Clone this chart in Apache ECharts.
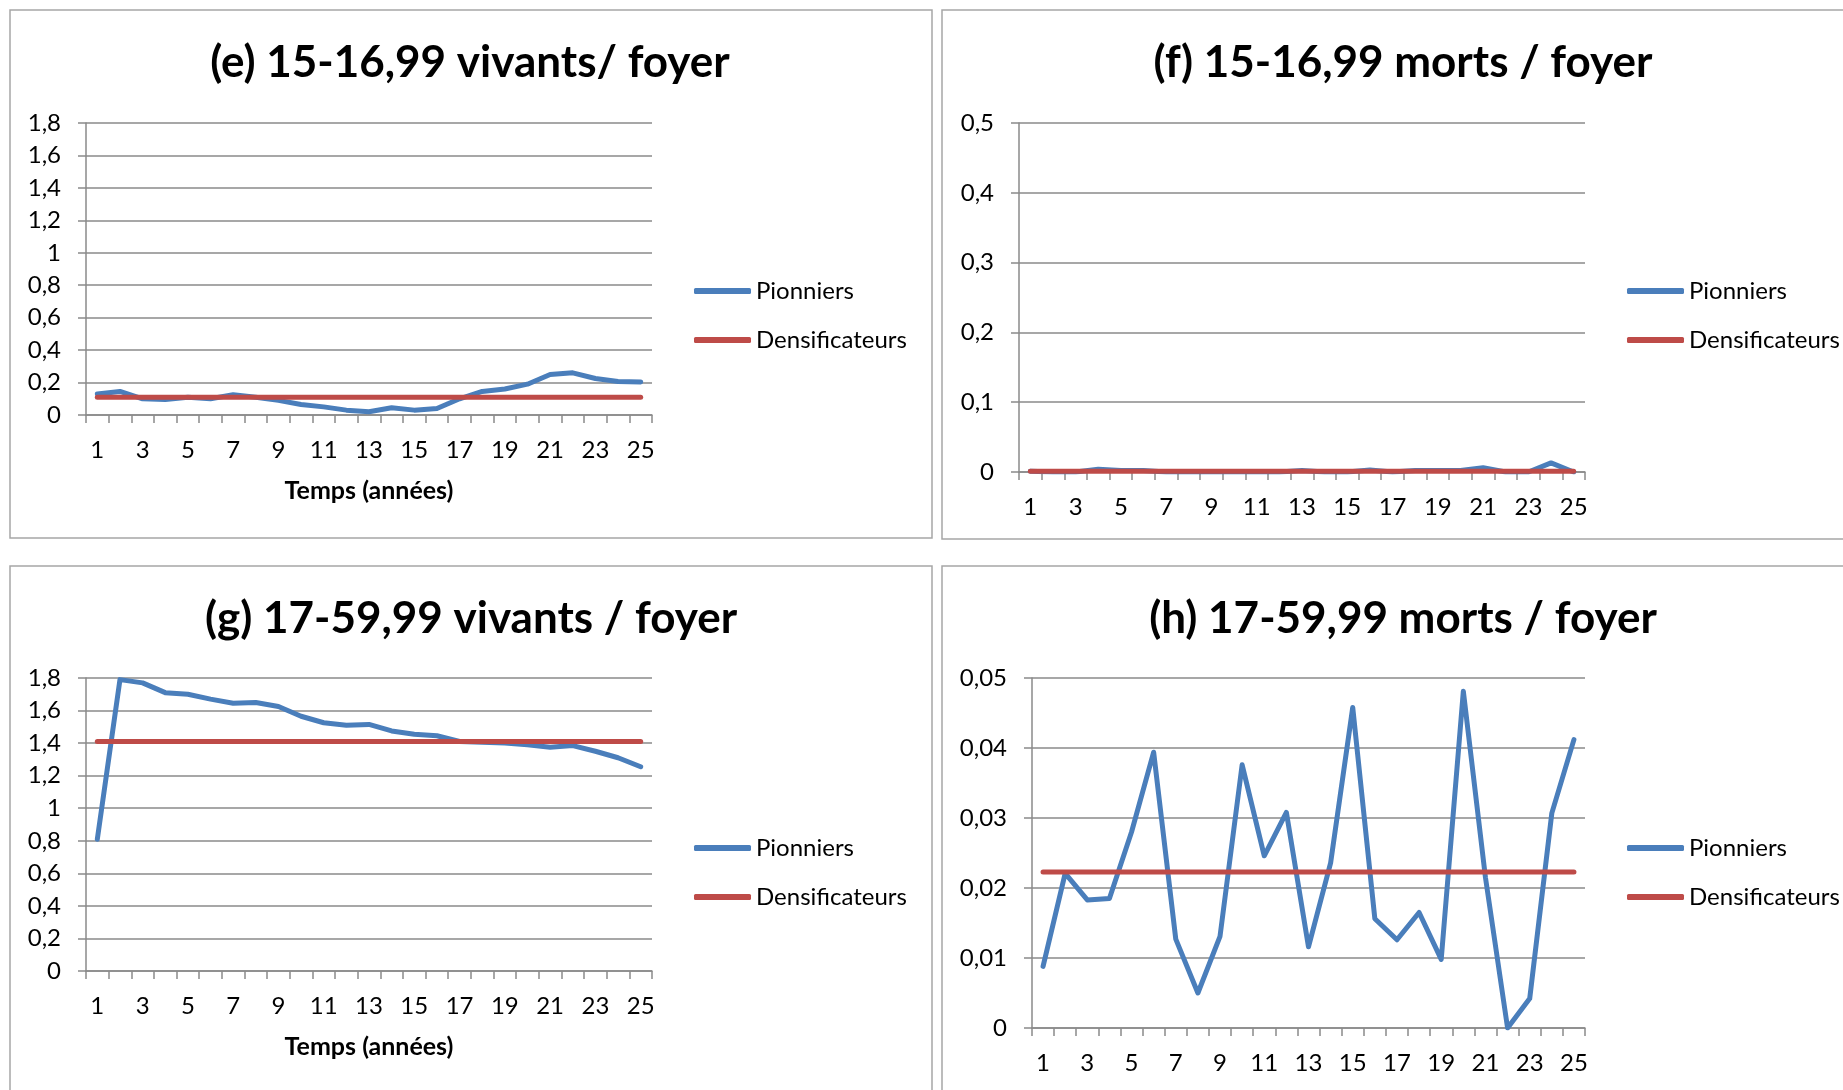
<!DOCTYPE html>
<html><head><meta charset="utf-8">
<script src="https://cdn.jsdelivr.net/npm/echarts@6/dist/echarts.min.js"></script>
<style>html,body{margin:0;padding:0;background:#fff}#c{width:1843px;height:1090px}</style>
</head><body><div id="c"></div>
<script>
// ---------- DATA ----------
const years = ['1','2','3','4','5','6','7','8','9','10','11','12','13','14','15','16','17','18','19','20','21','22','23','24','25'];
const seriesNames = ['Pionniers', 'Densificateurs'];
const panelTitles = ['(e) 15-16,99 vivants/ foyer', '(f) 15-16,99 morts / foyer', '(g) 17-59,99 vivants / foyer', '(h) 17-59,99 morts / foyer'];
const xAxisTitle = 'Temps (années)';

const ePionniers = [0.13,0.145,0.10,0.095,0.11,0.10,0.125,0.11,0.09,0.065,0.05,0.03,0.02,0.045,0.03,0.04,0.10,0.145,0.16,0.19,0.25,0.26,0.225,0.207,0.204];
const eDensificateurs = [0.11,0.11,0.11,0.11,0.11,0.11,0.11,0.11,0.11,0.11,0.11,0.11,0.11,0.11,0.11,0.11,0.11,0.11,0.11,0.11,0.11,0.11,0.11,0.11,0.11];

const fPionniers = [0.001,0,0,0.004,0.002,0.002,0,0,0,0,0,0,0.002,0,0,0.003,0,0.002,0.002,0.002,0.006,0,0,0.013,0];
const fDensificateurs = [0.001,0.001,0.001,0.001,0.001,0.001,0.001,0.001,0.001,0.001,0.001,0.001,0.001,0.001,0.001,0.001,0.001,0.001,0.001,0.001,0.001,0.001,0.001,0.001,0.001];

const gPionniers = [0.81,1.79,1.77,1.71,1.70,1.67,1.645,1.65,1.625,1.565,1.525,1.51,1.515,1.475,1.455,1.445,1.41,1.405,1.40,1.39,1.375,1.385,1.35,1.31,1.255];
const gDensificateurs = [1.41,1.41,1.41,1.41,1.41,1.41,1.41,1.41,1.41,1.41,1.41,1.41,1.41,1.41,1.41,1.41,1.41,1.41,1.41,1.41,1.41,1.41,1.41,1.41,1.41];

const hPionniers = [0.0088,0.0221,0.0183,0.0185,0.028,0.0394,0.0127,0.005,0.0131,0.0376,0.0246,0.0308,0.0116,0.0236,0.0458,0.0156,0.0126,0.0165,0.0098,0.0481,0.0215,0,0.0042,0.0307,0.0412];
const hDensificateurs = [0.0223,0.0223,0.0223,0.0223,0.0223,0.0223,0.0223,0.0223,0.0223,0.0223,0.0223,0.0223,0.0223,0.0223,0.0223,0.0223,0.0223,0.0223,0.0223,0.0223,0.0223,0.0223,0.0223,0.0223,0.0223];

const yMaxes = [1.8, 0.5, 1.8, 0.05];
const yIntervals = [0.2, 0.1, 0.2, 0.01];

// ---------- LAYOUT / STYLE ----------
const FONT = 'Lato, "Open Sans", sans-serif';
const BLUE = '#4A7EBB', RED = '#BE4B48', GRID = '#8a8a8a', BORDER = '#a6a6a6';
const grids = [
  {left: 86, top: 123, width: 566, height: 292},
  {left: 1019, top: 123, width: 566, height: 349},
  {left: 86, top: 678, width: 566, height: 293},
  {left: 1032, top: 678, width: 553, height: 350}
];
const titlePos = [[470, 63], [1403, 63], [471, 619], [1403, 619]];
const legendPos = [[689, 274], [1622, 274], [689, 831], [1622, 831]];
const hasXName = [true, false, true, false];
const dataSets = [[ePionniers, eDensificateurs], [fPionniers, fDensificateurs], [gPionniers, gDensificateurs], [hPionniers, hDensificateurs]];

const fmt = v => String(+(+v).toFixed(3)).replace('.', ',');

const option = {
  backgroundColor: '#fff',
  animation: false,
  textStyle: {fontFamily: FONT},
  grid: grids.map(g => Object.assign({outerBoundsMode: 'none', containLabel: false}, g)),
  xAxis: grids.map((g, i) => ({
    type: 'category', gridIndex: i, data: years, boundaryGap: true,
    axisLine: {lineStyle: {color: GRID, width: 1.5}},
    axisTick: {show: true, interval: 0, length: 8, lineStyle: {color: GRID, width: 1.5}},
    axisLabel: {interval: 1, margin: 23, color: '#000', fontSize: 24, fontFamily: FONT},
    name: hasXName[i] ? xAxisTitle : '',
    nameLocation: 'middle', nameGap: 63,
    nameTextStyle: {color: '#000', fontSize: 25, fontWeight: 'bold', fontFamily: FONT}
  })),
  yAxis: grids.map((g, i) => ({
    type: 'value', gridIndex: i, min: 0, max: yMaxes[i], interval: yIntervals[i],
    axisLine: {show: true, lineStyle: {color: GRID, width: 1.5}},
    axisTick: {show: true, length: 8, lineStyle: {color: GRID, width: 1.5}},
    splitLine: {lineStyle: {color: GRID, width: 1.5}},
    axisLabel: {margin: 25, color: '#000', fontSize: 24, fontFamily: FONT, formatter: fmt}
  })),
  legend: legendPos.map(p => ({
    data: seriesNames, orient: 'vertical', left: p[0], top: p[1],
    icon: 'roundRect', itemWidth: 57, itemHeight: 6, itemGap: 25,
    selectedMode: false,
    textStyle: {color: '#000', fontSize: 24, lineHeight: 24, fontFamily: FONT}
  })),
  series: [],
  graphic: []
};

dataSets.forEach((ds, i) => {
  option.series.push({
    name: seriesNames[0], type: 'line', xAxisIndex: i, yAxisIndex: i, data: ds[0],
    showSymbol: false, symbol: 'none', color: BLUE,
    lineStyle: {color: BLUE, width: 5, cap: 'round', join: 'round'}
  });
  option.series.push({
    name: seriesNames[1], type: 'line', xAxisIndex: i, yAxisIndex: i, data: ds[1],
    showSymbol: false, symbol: 'none', color: RED,
    lineStyle: {color: RED, width: 5, cap: 'round', join: 'round'}
  });
});

const borders = [[10, 10, 922, 528], [942, 10, 960, 529], [10, 566, 922, 600], [942, 566, 960, 600]];
borders.forEach(b => option.graphic.push({
  type: 'rect', shape: {x: b[0], y: b[1], width: b[2], height: b[3]}, silent: true, z: -10,
  style: {fill: null, stroke: BORDER, lineWidth: 1.5}
}));
panelTitles.forEach((t, i) => option.graphic.push({
  type: 'text', x: titlePos[i][0], y: titlePos[i][1], silent: true,
  style: {text: t, fill: '#000', font: 'bold 44px ' + FONT, textAlign: 'center', textVerticalAlign: 'middle'}
}));

const chart = echarts.init(document.getElementById('c'), null, {renderer: 'canvas'});
chart.setOption(option);
</script></body></html>
